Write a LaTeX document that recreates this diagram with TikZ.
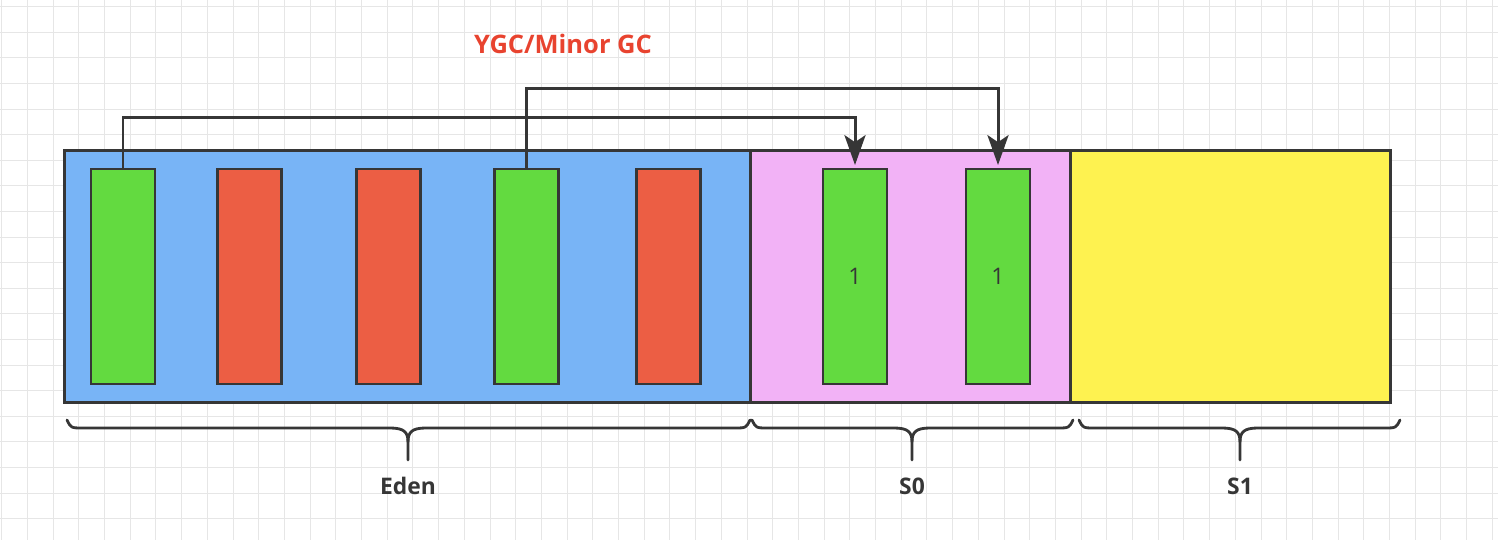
\documentclass[tikz,border=0pt]{standalone}
\usepackage{fontspec}
\setmainfont{Open Sans}
\usetikzlibrary{arrows.meta,positioning,calc}
\definecolor{edenblue}{HTML}{78B4F6}
\definecolor{survpink}{HTML}{F2B2F6}
\definecolor{survyellow}{HTML}{FEF250}
\definecolor{livegreen}{HTML}{63DA40}
\definecolor{deadred}{HTML}{EC5E44}
\definecolor{gcred}{HTML}{E8432F}
\definecolor{inkgray}{HTML}{363636}
\definecolor{gridline}{HTML}{E6E6E6}

\tikzset{
  region/.style={draw=inkgray, line width=1.7pt, minimum height=5.06cm, inner sep=0pt, outer sep=0pt},
  obj/.style={draw=inkgray, line width=1.5pt, minimum width=1.28cm, minimum height=4.3cm, inner sep=0pt, outer sep=0pt,
    font=\fontsize{13}{15}\selectfont, text=inkgray},
  flow/.style={draw=inkgray, line width=1.7pt, -{Stealth[length=17pt,width=12pt,inset=4pt]}},
  membrace/.style={draw=inkgray, line width=1.6pt, line cap=round},
  caption/.style={font=\bfseries\fontsize{13}{15}\selectfont, text=inkgray}
}

\begin{document}
\begin{tikzpicture}[x=0.02cm, y=-0.02cm]
            \useasboundingbox (0,0) rectangle (1498,540);
            \foreach \gx in {1.7,27.4,...,1498} \draw[gridline, line width=0.5pt] (\gx,0) -- (\gx,540);
            \foreach \gy in {6.7,32.3,...,540} \draw[gridline, line width=0.5pt] (0,\gy) -- (1498,\gy);

            \node[region, fill=edenblue, minimum width=13.74cm] (eden) at (407.5,276.5) {};
            \node[region, fill=survpink, minimum width=6.4cm, anchor=west] (s0) at (eden.east) {};
            \node[region, fill=survyellow, minimum width=6.4cm, anchor=west] (s1) at (s0.east) {};

            \foreach \bx/\bc/\bn in {123/livegreen/g1, 249.5/deadred/r1, 388.5/deadred/r2, 526.5/livegreen/g2, 668.5/deadred/r3}
              \node[obj, fill=\bc] (\bn) at (\bx,276.5) {};
            \node[obj, fill=livegreen] (c1) at (855,276.5) {1};
            \node[obj, fill=livegreen] (c2) at (998,276.5) {1};

            \draw[flow] (g1.north) -- ++(0,-52) -| ([yshift=0.08cm]c1.north);
            \draw[flow] (g2.north) -- ++(0,-81) -| ([yshift=0.08cm]c2.north);

            \node[font=\bfseries\fontsize{14.5}{17}\selectfont, text=gcred] (title) at (563,44) {YGC/Minor GC};

            \foreach \bl/\br/\bm/\bt in {67/750/408/Eden, 752/1073/912/S0, 1079/1400/1240/S1} {
              \draw[membrace] (\bl,420) .. controls (\bl+4,428) .. (\bl+16,428) -- (\bm-18,428)
                .. controls (\bm-4,428) and (\bm,432) .. (\bm,442) -- (\bm,460);
              \draw[membrace] (\br,420) .. controls (\br-4,428) .. (\br-16,428) -- (\bm+18,428)
                .. controls (\bm+4,428) and (\bm,432) .. (\bm,442);
              \node[caption] (lbl-\bt) at (\bm,486) {\bt};
            }
        \end{tikzpicture}
\end{document}
